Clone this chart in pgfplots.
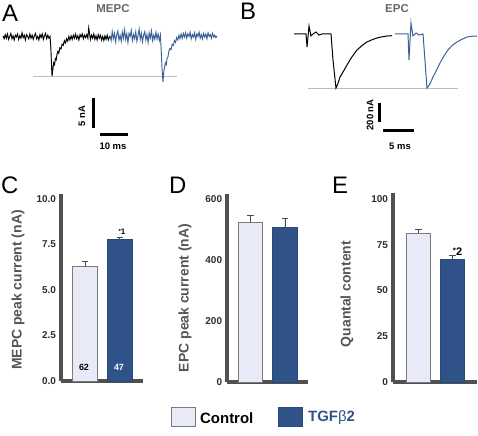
\documentclass[border=0pt]{standalone}
\usepackage{fontspec}
\setmainfont{Liberation Sans}
\usepackage{pgfplots}
\pgfplotsset{compat=1.18}
\definecolor{axgray}{HTML}{505050}
\definecolor{tickc}{HTML}{2E2E2E}
\definecolor{labgray}{HTML}{555555}
\definecolor{ctrlfill}{HTML}{E8EBF7}
\definecolor{ctrledge}{HTML}{7A7A7A}
\definecolor{tgffill}{HTML}{2F5289}
\definecolor{tgfedge}{HTML}{2A4A7C}
\definecolor{trblue}{HTML}{3B6198}
\definecolor{refgray}{HTML}{BDBDBD}
\newcommand{\fs}[1]{\fontsize{#1}{#1}\selectfont}
\pgfplotsset{
  barax/.style={
    scale only axis,
    axis x line=bottom, axis y line=left,
    axis line style={line width=3.2bp, color=axgray, -},
    xtick=\empty,
    major tick length=0pt,
    ybar, bar shift=0pt,
    clip=false, ymin=0,
    /pgf/number format/assume math mode=true,
    yticklabel style={font=\bfseries\fs{10}, text=tickc, xshift=-1.5bp},
    error bars/y dir=plus, error bars/y explicit,
    error bars/error bar style={line width=0.9bp, color=black!70},
    error bars/error mark options={rotate=90, mark size=3.2bp, line width=0.9bp, color=black!70},
  },
  ctrl/.style={draw=ctrledge, fill=ctrlfill, line width=0.8bp, bar width=24.5bp},
  tgf/.style={draw=tgfedge, fill=tgffill, line width=0.8bp, bar width=24.5bp},
}
\begin{document}
\begin{tikzpicture}
\path[use as bounding box] (0bp,0bp) rectangle (478bp,436bp);

% Panel A traces
\begin{axis}[at={(3bp,399bp)}, anchor=origin, scale only axis,
  width=214bp, height=120bp, xmin=0, xmax=76.4, ymin=-18, ymax=2,
  axis lines=none, clip=false]
\addplot[refgray, line width=0.9bp] coordinates {(10.7,-6.5) (62.1,-6.5)};
\addplot[black, line width=0.95bp] coordinates {
(0,0.2)(0.4,-0.3)(0.8,0.4)(1.2,-0.2)(1.6,0.5)(2.0,-0.4)(2.4,0.1)(2.8,0.6)(3.2,-0.3)(3.6,0.2)
(4.0,-0.5)(4.4,0.3)(4.8,0.0)(5.2,0.5)(5.6,-0.4)(6.0,0.2)(6.4,-0.2)(6.8,0.7)(7.2,-0.1)(7.6,0.3)
(8.0,-0.5)(8.4,0.4)(8.8,0.1)(9.2,-0.3)(9.6,0.5)(10.0,-0.2)(10.4,0.3)(10.8,-0.4)(11.2,0.2)(11.6,0.6)
(12.0,-0.3)(12.4,0.1)(12.8,-0.5)(13.2,0.4)(13.6,-0.1)(14.0,0.5)(14.4,-0.4)(14.8,0.2)(15.2,0.6)(15.6,-0.3)
(16.0,0.3)(16.4,-0.2)(16.8,0.1)(17.1,-2.0)(17.35,-5.0)(17.5,-6.5)(17.8,-5.4)(18.1,-4.3)(18.4,-4.6)(18.7,-3.6)
(19.0,-3.8)(19.3,-2.8)(19.6,-2.4)(19.9,-2.7)(20.3,-1.8)(20.7,-2.0)(21.1,-1.2)(21.5,-1.4)(21.9,-0.6)(22.3,-1.0)
(22.7,-0.3)(23.1,-0.7)(23.5,0.1)(23.9,-0.5)(24.3,0.2)(24.7,-0.4)(25.1,0.3)(25.5,-0.2)(25.9,0.5)(26.3,-0.3)
(26.7,0.2)(27.1,-0.5)(27.5,0.4)(27.9,0.0)(28.3,0.5)(28.7,-0.3)(29.1,0.3)(29.5,-0.1)(29.9,0.4)(30.3,-0.2)
(30.6,1.5)(30.9,0.6)(31.2,-0.4)(31.6,0.3)(32.0,-0.2)(32.4,0.5)(32.8,-0.4)(33.2,0.2)(33.6,-0.5)(34.0,0.4)
(34.4,-0.2)(34.8,0.3)(35.2,-0.5)(35.6,0.1)(36.0,-0.6)(36.4,0.2)(36.8,-0.4)(37.2,0.3)(37.6,-0.5)(38.0,0.0)(38.2,0.2)};
\addplot[trblue, line width=0.95bp] coordinates {
(38.2,0.2)(38.6,-0.6)(39.0,0.9)(39.4,-0.3)(39.8,0.6)(40.2,-0.8)(40.6,0.4)(41.0,1.0)(41.4,-0.5)(41.8,0.3)
(42.2,-0.7)(42.6,0.8)(43.0,-0.2)(43.4,1.2)(43.8,-0.4)(44.2,0.5)(44.6,-0.9)(45.0,0.6)(45.4,0.1)(45.8,1.1)
(46.2,-0.6)(46.6,0.4)(47.0,-0.3)(47.4,0.9)(47.8,-0.7)(48.2,0.2)(48.6,1.3)(49.0,-0.4)(49.4,0.6)(49.8,-0.8)
(50.2,0.3)(50.6,0.9)(51.0,-0.5)(51.4,0.4)(51.8,-0.9)(52.2,0.7)(52.6,-0.2)(53.0,1.0)(53.4,-0.6)(53.8,0.3)
(54.2,-0.4)(54.6,0.8)(55.0,-0.3)(55.4,0.5)(55.8,-0.6)(56.2,0.3)(56.5,-2.5)(56.8,-5.5)(57.1,-7.5)(57.4,-5.8)
(57.7,-5.0)(58.0,-4.3)(58.3,-4.6)(58.6,-3.5)(58.9,-3.3)(59.2,-2.4)(59.6,-1.9)(60.0,-2.1)(60.4,-1.2)(60.8,-1.4)
(61.2,-0.6)(61.6,-0.9)(62.0,-0.1)(62.4,-0.5)(62.8,0.3)(63.2,-0.3)(63.6,0.5)(64.0,-0.2)(64.4,0.6)(64.8,0.0)
(65.2,0.7)(65.6,-0.2)(66.0,0.5)(66.4,0.1)(66.8,0.8)(67.2,-0.3)(67.6,0.4)(68.0,0.0)(68.4,0.7)(68.8,-0.4)
(69.2,0.5)(69.6,0.1)(70.0,0.8)(70.4,-0.2)(70.8,0.4)(71.2,-0.3)(71.6,0.6)(72.0,0.0)(72.4,0.5)(72.8,-0.3)
(73.2,0.7)(73.6,0.1)(74.0,0.4)(74.4,-0.2)(74.8,0.6)(75.2,0.0)(75.6,0.3)(76.0,-0.1)(76.4,0.2)};
% scale bars
\addplot[black, line width=3bp] coordinates {(32.14,-10.17)(32.14,-15.17)};
\addplot[black, line width=3bp] coordinates {(34.64,-16.17)(44.64,-16.17)};
\end{axis}

% Panel B traces
\begin{axis}[at={(294bp,402bp)}, anchor=origin, scale only axis,
  width=184bp, height=128.25bp, xmin=0, xmax=29.68, ymin=-1200, ymax=150,
  axis lines=none, clip=false]
\addplot[refgray, line width=0.9bp] coordinates {(2.26,-569)(26.45,-569)};
\addplot[black, line width=1bp] coordinates {
(0,0)(1.94,0)(2.10,-137)(2.42,84)(2.74,-21)(3.06,0)(3.55,21)(4.03,-11)(4.52,0)(5.97,0)
(6.29,-274)(6.77,-569)(7.10,-520)(7.42,-453)(8.0,-390)(8.55,-326)(9.3,-245)(10.16,-168)(11.0,-120)(11.77,-84)
(12.6,-60)(13.39,-42)(14.2,-30)(15.0,-21)(15.81,-18)};
\addplot[trblue, line width=1bp] coordinates {
(16.29,0)(18.39,0)(18.55,-274)(18.87,116)(19.19,-21)(19.68,11)(20.16,-11)(20.81,0)(21.13,-280)(21.45,-569)
(21.9,-530)(22.42,-453)(23.0,-380)(23.55,-305)(24.2,-230)(24.84,-168)(25.5,-122)(26.29,-84)(27.1,-55)(27.90,-32)
(28.7,-24)(29.52,-21)};
\addplot[black, line width=3bp] coordinates {(13.87,-726.6)(13.87,-926.6)};
\addplot[black, line width=3bp] coordinates {(14.35,-1021)(19.35,-1021)};
\end{axis}

% Panel C
\begin{axis}[barax, at={(85bp,55bp)}, anchor=origin,
  width=82bp, height=187bp, xmin=-0.69, xmax=1.67, ymax=10.27,
  ytick={0,2.5,5,7.5,10}, yticklabels={0.0,2.5,5.0,7.5,10.0}]
\addplot[ctrl] coordinates {(0,6.28) +- (0,0.27)};
\addplot[tgf] coordinates {(1,7.80) +- (0,0.10)};
\end{axis}

% Panel D
\begin{axis}[barax, at={(250.5bp,54bp)}, anchor=origin,
  width=81bp, height=188bp, xmin=-0.68, xmax=1.67, ymax=616,
  ytick={0,200,400,600}]
\addplot[ctrl] coordinates {(0,523) +- (0,22)};
\addplot[tgf] coordinates {(1,508) +- (0,29)};
\end{axis}

% Panel E
\begin{axis}[barax, at={(418.5bp,54bp)}, anchor=origin,
  width=84bp, height=189bp, xmin=-0.75, xmax=1.72, ymax=103.3,
  ytick={0,25,50,75,100}]
\addplot[ctrl] coordinates {(0,81.4) +- (0,2.2)};
\addplot[tgf] coordinates {(1,67.2) +- (0,2.0)};
\end{axis}

\begin{scope}[x=1bp, y=1bp]
% panel letters
\node[anchor=base west, inner sep=0, font=\fs{24}] at (2,414) {A};
\node[anchor=base west, inner sep=0, font=\fs{24}] at (240,416) {B};
\node[anchor=base west, inner sep=0, font=\fs{24}] at (1,243) {C};
\node[anchor=base west, inner sep=0, font=\fs{24}] at (169,243) {D};
\node[anchor=base west, inner sep=0, font=\fs{24}] at (332,243) {E};
% titles
\node[font=\bfseries\fs{11.5}, text=black!60, anchor=base] at (113,423) {MEPC};
\node[font=\bfseries\fs{11.5}, text=black!60, anchor=base] at (397,423) {EPC};
% scale bar labels
\node[font=\bfseries\fs{9.5}, rotate=90] at (82,320) {5 nA};
\node[font=\bfseries\fs{9.5}] at (113,290) {10 ms};
\node[font=\bfseries\fs{9.5}, rotate=90] at (370,321) {200 nA};
\node[font=\bfseries\fs{9.5}] at (400,290) {5 ms};
% y labels
\node[font=\bfseries\fs{14}, text=labgray, rotate=90] at (18,146) {MEPC peak current (nA)};
\node[font=\bfseries\fs{14}, text=labgray, rotate=90] at (185,138) {EPC peak current (nA)};
\node[font=\bfseries\fs{14}, text=labgray, rotate=90] at (347,142) {Quantal content};
% n and significance
\node[font=\bfseries\fs{9}] at (84,69) {62};
\node[font=\bfseries\fs{9}, text=white] at (119,69) {47};
\node[font=\bfseries\fs{8}] at (122,204) {\raisebox{1bp}{\fs{6}*}1};
\node[font=\bfseries\fs{11}, anchor=base] at (457.5,181) {\raisebox{2bp}{\fs{8}*}2};
% legend
\draw[ctrledge, fill=ctrlfill, line width=0.8bp] (171,10) rectangle (195,29);
\node[font=\bfseries\fs{15}, anchor=west, inner sep=0] at (200,18) {Control};
\draw[tgfedge, fill=tgffill, line width=0.8bp] (278,10) rectangle (302,29);
\node[font=\bfseries\fs{15}, anchor=west, inner sep=0, text=tgffill] at (308,18) {TGF{\mdseries β}2};
\end{scope}
\end{tikzpicture}
\end{document}
